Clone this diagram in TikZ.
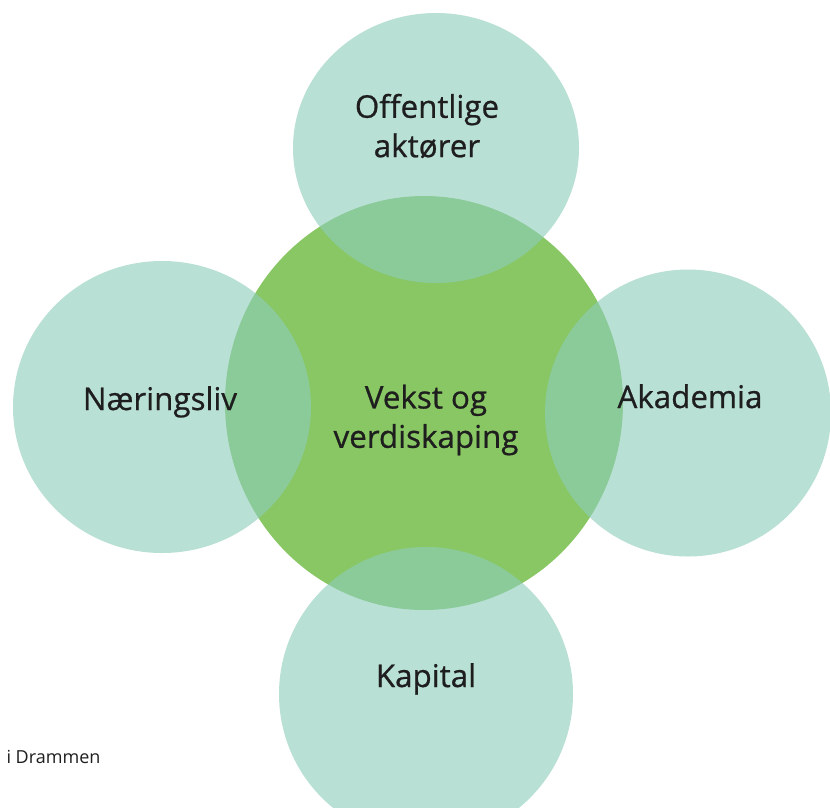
\documentclass[tikz,border=0pt]{standalone}
\usepackage{fontspec}
\setmainfont{Open Sans}
\newfontfamily\labelfont{Open Sans}[FakeBold=0.7]

\tikzset{every picture/.style={line width=0.75pt}}
\tikzset{
  partner/.style={fill={rgb, 255:red, 142; green, 205; blue, 186 }, fill opacity=0.62},
  core/.style={fill={rgb, 255:red, 136; green, 199; blue, 100 }, fill opacity=1},
  bigtext/.style={inner sep=0.75pt, align=center, text={rgb, 255:red, 30; green, 30; blue, 30 }, font=\labelfont\fontsize{23.5}{29.5}\selectfont},
  smalltext/.style={inner sep=0.75pt, text={rgb, 255:red, 30; green, 30; blue, 30 }, font=\fontsize{13.5}{16}\selectfont}
}

\begin{document}
\begin{tikzpicture}[x=0.75pt,y=0.75pt,yscale=-1,xscale=1]
    \useasboundingbox (0,0) rectangle (830,807);
    
    %Shape: Circle [id:core] 
    \fill [core] (424,403) ellipse [x radius=199, y radius=207];
    %Shape: Circle [id:top] 
    \fill [partner] (436,148) ellipse [x radius=143, y radius=135];
    %Shape: Circle [id:left] 
    \fill [partner] (162,407) ellipse [x radius=149, y radius=146];
    %Shape: Circle [id:right] 
    \fill [partner] (688,413) ellipse [x radius=143, y radius=143.5];
    %Shape: Circle [id:bottom] 
    \fill [partner] (426,694) ellipse [x radius=147, y radius=147];
    
    % Text Node
    \draw (427,126) node (offentlige) [anchor=center][bigtext] {Offentlige\\aktører};
    % Text Node
    \draw (160,410) node (naeringsliv) [anchor=base][bigtext] {Næringsliv};
    % Text Node
    \draw (426,420) node (vekst) [anchor=center][bigtext] {Vekst og\\verdiskaping};
    % Text Node
    \draw (690,408) node (akademia) [anchor=base][bigtext] {Akademia};
    % Text Node
    \draw (426,687) node (kapital) [anchor=base][bigtext] {Kapital};
    % Text Node
    \draw (102,763) node (drammen) [anchor=base east][smalltext] {i Drammen};
    
\end{tikzpicture}
\end{document}
